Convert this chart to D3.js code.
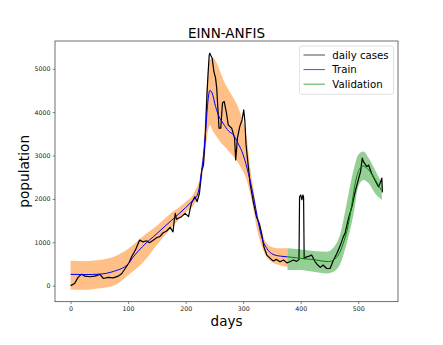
<!DOCTYPE html>
<html>
<head>
<meta charset="utf-8">
<style>
body { margin: 0; background: #fff; }
svg { font-family: 'DejaVu Sans', sans-serif; }
</style>
</head>
<body>
<svg width="443" height="345"></svg>
<script src="https://d3js.org/d3.v7.min.js"></script>
<script>

// daily cases (black)
const caseDays = [0, 7, 13, 19, 25, 34, 42, 51, 57, 65, 74, 83, 89, 97, 102, 106, 110, 114, 120, 126, 132, 137, 143, 150, 155, 161, 167, 173, 178, 180, 182, 184, 188, 193, 199, 205, 210, 216, 220, 224, 228, 231, 234, 237, 239, 241, 242, 244, 246, 249, 252, 254, 256, 258, 261, 264, 267, 271, 274, 280, 285, 287, 290, 294, 298, 301, 303, 305, 308, 312, 318, 323, 328, 332, 336, 341, 347, 352, 358, 364, 370, 376, 381, 387, 393, 397, 398, 400, 402, 404, 405, 406, 410, 415, 419, 425, 430, 434, 439, 445, 451, 457, 463, 468, 474, 477, 483, 489, 494, 500, 504, 507, 509, 512, 515, 518, 523, 529, 535, 538, 541, 542];
const caseValues = [0, 50, 190, 265, 220, 205, 220, 260, 165, 190, 180, 220, 280, 435, 540, 665, 760, 860, 1050, 1010, 1035, 990, 1040, 1110, 1130, 1220, 1260, 1345, 1240, 1480, 1665, 1530, 1560, 1590, 1665, 1590, 1900, 2050, 1935, 2130, 2665, 2780, 3400, 4400, 4900, 5320, 5360, 5300, 5250, 4940, 4785, 4555, 4090, 3630, 3630, 4210, 4245, 3975, 3705, 3630, 3400, 2900, 3400, 3665, 3820, 4050, 3780, 3245, 2860, 2360, 1900, 1590, 1435, 1205, 895, 705, 630, 570, 605, 550, 590, 525, 550, 590, 560, 600, 2050, 2090, 1980, 2090, 2030, 620, 665, 680, 705, 550, 470, 420, 475, 395, 395, 590, 745, 900, 1125, 1205, 1550, 1820, 2130, 2435, 2630, 2940, 2860, 2800, 2745, 2780, 2590, 2435, 2280, 2360, 2480, 2150];

// train fit (blue) and its band
const trainDays = [0, 25, 50, 75, 100, 110, 125, 150, 175, 200, 215, 220, 224, 228, 232, 235, 238, 242, 246, 252, 258, 265, 275, 283, 291, 300, 309, 318, 326, 332, 341, 352, 365, 377];
const trainValues = [260, 255, 265, 330, 500, 680, 900, 1200, 1500, 1800, 2000, 2080, 2280, 2665, 3130, 3600, 4150, 4500, 4440, 4130, 3900, 3745, 3560, 3475, 3285, 3015, 2590, 2050, 1475, 1125, 860, 720, 680, 665];

const trainBandDays = [0, 25, 50, 75, 100, 125, 150, 175, 200, 215, 225, 231, 237, 242, 248, 254, 261, 268, 276, 283, 290, 297, 306, 312, 318, 324, 330, 336, 344, 352, 364, 377];
const trainUpper = [575, 565, 590, 665, 850, 1130, 1380, 1680, 1930, 2150, 2520, 3250, 4630, 5200, 5250, 5130, 4900, 4670, 4480, 4325, 4150, 3900, 3435, 2745, 2205, 1720, 1380, 1100, 935, 880, 860, 860];
const trainLower = [-90, -95, -60, 0, 240, 520, 940, 1330, 1680, 1880, 2200, 2700, 3400, 3705, 3550, 3435, 3300, 3205, 3080, 2975, 2850, 2700, 2435, 2130, 1750, 1300, 1000, 780, 610, 530, 470, 435];

// validation fit (green) and its band
const validDays = [377, 400, 422, 448, 458, 466, 474, 481, 488, 495, 502, 508, 518, 528, 540];
const validValues = [665, 630, 600, 555, 600, 720, 980, 1300, 1800, 2380, 2680, 2760, 2670, 2475, 2200];

const validBandDays = [377, 399, 422, 445, 457, 469, 480, 492, 500, 509, 518, 529, 541];
const validUpper = [860, 835, 800, 780, 880, 1205, 1900, 2670, 3015, 3090, 2940, 2670, 2360];
const validLower = [360, 360, 320, 280, 320, 510, 975, 1665, 2280, 2435, 2360, 2130, 1975];

const xTicks = [0, 100, 200, 300, 400, 500];
const yTicks = [0, 1000, 2000, 3000, 4000, 5000];

const legendItems = [
    {label: 'daily cases', color: '#000000'},
    {label: 'Train', color: '#0000ff'},
    {label: 'Validation', color: '#008000'},
];

const margin = {top: 41, right: 45, bottom: 43.3, left: 55};
const fullWidth = 443;
const fullHeight = 345;
const width = fullWidth - margin.left - margin.right;
const height = fullHeight - margin.top - margin.bottom;

const svg = d3.select('svg');
svg.append('rect').attr('width', fullWidth).attr('height', fullHeight).attr('fill', '#fff');

const g = svg.append('g')
    .attr('transform', `translate(${margin.left},${margin.top})`);

const x = d3.scaleLinear().domain([-27.1, 569.1]).range([0, width]);
const y = d3.scaleLinear().domain([-370, 5640]).range([height, 0]);

const zip = (a, b) => a.map((d, i) => [d, b[i]]);
const zip3 = (a, b, c) => a.map((d, i) => [d, b[i], c[i]]);

const area = d3.area()
    .x(d => x(d[0]))
    .y0(d => y(d[2]))
    .y1(d => y(d[1]))
    .curve(d3.curveMonotoneX);

const smooth = d3.line()
    .x(d => x(d[0]))
    .y(d => y(d[1]))
    .curve(d3.curveMonotoneX);

const jagged = d3.line()
    .x(d => x(d[0]))
    .y(d => y(d[1]));

g.append('path')
    .attr('d', area(zip3(trainBandDays, trainUpper, trainLower)))
    .attr('fill', '#ff7f0e')
    .attr('fill-opacity', 0.5);

g.append('path')
    .attr('d', area(zip3(validBandDays, validUpper, validLower)))
    .attr('fill', '#2ca02c')
    .attr('fill-opacity', 0.5);

g.append('path')
    .attr('d', jagged(zip(caseDays, caseValues)))
    .attr('fill', 'none')
    .attr('stroke', '#000')
    .attr('stroke-width', 1.2)
    .attr('stroke-linejoin', 'round');

g.append('path')
    .attr('d', smooth(zip(trainDays, trainValues)))
    .attr('fill', 'none')
    .attr('stroke', '#0000ff')
    .attr('stroke-width', 1);

g.append('path')
    .attr('d', smooth(zip(validDays, validValues)))
    .attr('fill', 'none')
    .attr('stroke', '#008000')
    .attr('stroke-width', 1);

// axes
const xAxis = g.append('g')
    .attr('transform', `translate(0,${height})`)
    .call(d3.axisBottom(x).tickValues(xTicks).tickSize(2.3).tickPadding(2.2));
const yAxis = g.append('g')
    .call(d3.axisLeft(y).tickValues(yTicks).tickSize(2.3).tickPadding(2.2).tickFormat(d3.format('d')));

[xAxis, yAxis].forEach(a => {
    a.select('.domain').remove();
    a.selectAll('line').attr('stroke', '#333').attr('stroke-width', 0.6);
    a.selectAll('text').attr('font-size', 6.3).attr('fill', '#222')
        .attr('font-family', 'DejaVu Sans');
});

g.append('rect')
    .attr('width', width)
    .attr('height', height)
    .attr('fill', 'none')
    .attr('stroke', '#333')
    .attr('stroke-width', 0.7);

// title and labels
svg.append('text')
    .attr('x', margin.left + width / 2)
    .attr('y', 37.5)
    .attr('text-anchor', 'middle')
    .attr('font-size', 13.5)
    .attr('fill', '#000')
    .text('EINN-ANFIS');

svg.append('text')
    .attr('x', margin.left + width / 2)
    .attr('y', 326)
    .attr('text-anchor', 'middle')
    .attr('font-size', 13.5)
    .attr('fill', '#000')
    .text('days');

svg.append('text')
    .attr('transform', `translate(29,${margin.top + height / 2}) rotate(-90)`)
    .attr('text-anchor', 'middle')
    .attr('font-size', 13.7)
    .attr('fill', '#000')
    .text('population');

// legend
const legend = svg.append('g').attr('transform', 'translate(299.5,46)');
legend.append('rect')
    .attr('width', 94)
    .attr('height', 48.3)
    .attr('rx', 2)
    .attr('fill', '#fff')
    .attr('fill-opacity', 0.8)
    .attr('stroke', '#d6d6d6')
    .attr('stroke-width', 0.7);

const rows = legend.selectAll('g.item')
    .data(legendItems)
    .join('g')
    .attr('class', 'item')
    .attr('transform', (d, i) => `translate(0,${9 + i * 14.6})`);

rows.append('line')
    .attr('x1', 4).attr('x2', 25.5)
    .attr('stroke', d => d.color)
    .attr('stroke-opacity', 0.7)
    .attr('stroke-width', 1);

rows.append('text')
    .attr('x', 32.8)
    .attr('dy', '0.35em')
    .attr('font-size', 10.2)
    .attr('fill', '#000')
    .text(d => d.label);

</script>
</body>
</html>
